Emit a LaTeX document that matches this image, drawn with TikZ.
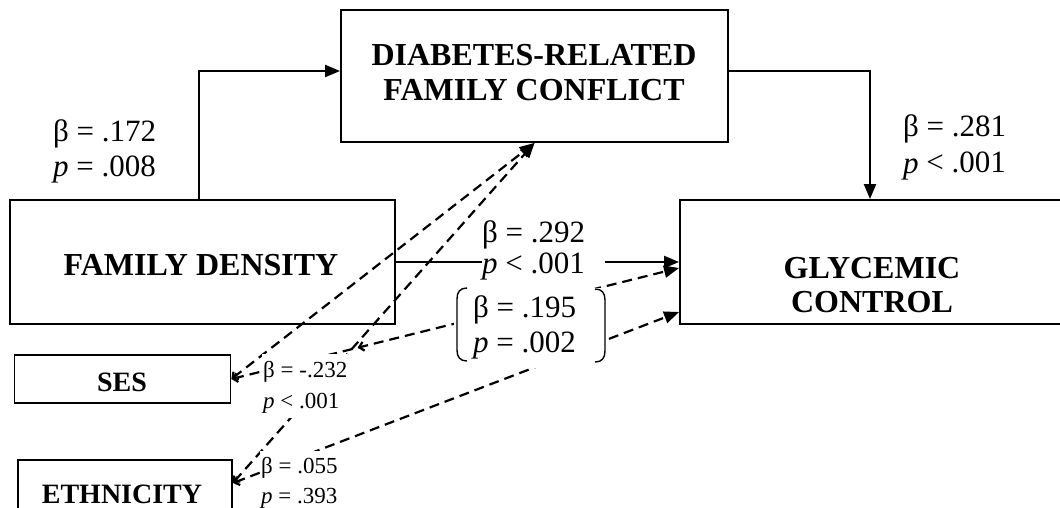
\documentclass[tikz,border=0pt]{standalone}
\usepackage{fontspec}
\setmainfont{Liberation Serif}
\usetikzlibrary{arrows.meta,decorations.markings}
\newcommand\lblpair[2]{\begin{tabular}[t]{@{}l@{}}#1\\#2\end{tabular}}
\newcommand\lblpairR[3]{\begin{tabular}[t]{@{}l@{\hspace{#3}}}#1\\#2\end{tabular}}
\tikzset{
  boxframe/.style={draw, line width=1.9pt, rectangle, inner sep=0pt},
  boxtext/.style={inner sep=0pt, align=center, font=\bfseries\fontsize{32}{34.5}\selectfont},
  covtext/.style={inner sep=0pt, align=center, font=\bfseries\fontsize{28}{32}\selectfont},
  solidarrow/.style={line width=2.2pt, -{Triangle[length=15pt,width=12pt]}},
  dasharrow/.style={line width=2.2pt, dash pattern=on 10pt off 6pt,
    {Straight Barb[length=4.5pt,width=9pt]}-{Triangle[length=15pt,width=12pt]}},
  midback/.style={postaction={decorate}, decoration={markings,
    mark=at position #1 with {\arrowreversed{Straight Barb[length=4.5pt,width=9pt]}}}},
  biglabel/.style={inner sep=0pt, anchor=base west, font=\fontsize{31}{35}\selectfont},
  smalllabel/.style={inner sep=1pt, anchor=base west, fill=white, font=\fontsize{23}{31}\selectfont},
  parenline/.style={line width=1.4pt},
}
\begin{document}
\begin{tikzpicture}[x=1pt,y=-1pt]
\useasboundingbox (0,0) rectangle (1060,508);
% boxes
\node[boxframe, minimum width=387pt, minimum height=132pt] (dfc) at (534.5,76) {};
\node[boxtext] (dfct) at (534,72.5) {DIABETES-RELATED\\FAMILY CONFLICT};
\node[boxframe, minimum width=385pt, minimum height=124pt] (fd) at (202.5,262) {};
\node[boxtext] (fdt) at (201,265.5) {FAMILY DENSITY};
\node[boxframe, minimum width=384pt, minimum height=124pt] (gc) at (872,262) {};
\node[boxtext] (gct) at (872,285) {GLYCEMIC\\CONTROL};
\node[boxframe, minimum width=216pt, minimum height=48pt] (ses) at (122.5,379) {};
\node[covtext] (sest) at (122,382.5) {SES};
\node[boxframe, minimum width=214pt, minimum height=70pt] (eth) at (125,495) {};
\node[covtext] (etht) at (122,494) {ETHNICITY};
% solid paths
\draw[solidarrow] ([xshift=-3.5pt]fd.north) |- ([yshift=5pt]dfc.west);
\draw[solidarrow] ([yshift=5pt]dfc.east) -| ([xshift=-2pt]gc.north);
\draw[solidarrow] (fd.east) -- (gc.west);
% dashed covariate paths
\draw[dasharrow] (ses.east) -- (dfc.south);
\draw[dasharrow] ([yshift=12pt]eth.east) -- (dfc.south);
\draw[dasharrow, midback=0.282] (ses.east) -- ([yshift=-6pt]gc.west);
\draw[dasharrow] ([yshift=12pt]eth.east) -- ([yshift=-50pt]gc.west);
% labels
\node[biglabel] (l172) at (53,142) {\lblpair{β = .172}{\textit{p} = .008}};
\node[biglabel, font=\fontsize{31}{36}\selectfont] (l281) at (903,137) {\lblpair{β = .281}{\textit{p} < .001}};
\node[biglabel, fill=white, font=\fontsize{31}{31.5}\selectfont] (l292) at (482,242) {\lblpairR{β = .292}{\textit{p} < .001}{20pt}};
\node[biglabel, fill=white, inner ysep=5pt] (l195) at (454,317) {\begin{tabular}[t]{@{\hspace{19pt}}l@{\hspace{30pt}}}β = .195\\\textit{p} = .002\end{tabular}};
\draw[parenline] (467,288) .. controls (460,288) and (457,292) .. (457,299) -- (457,350) .. controls (457,357) and (460,361) .. (467,361);
\draw[parenline] (595,289) .. controls (602,289) and (605,293) .. (605,300) -- (605,351) .. controls (605,358) and (602,362) .. (595,362);
\node[smalllabel] (l232) at (262,377) {\lblpair{β = -.232}{\textit{p} < .001}};
\node[smalllabel, font=\fontsize{23}{30}\selectfont] (l055) at (260,473) {\lblpair{β = .055}{\textit{p} = .393}};
\end{tikzpicture}
\end{document}
